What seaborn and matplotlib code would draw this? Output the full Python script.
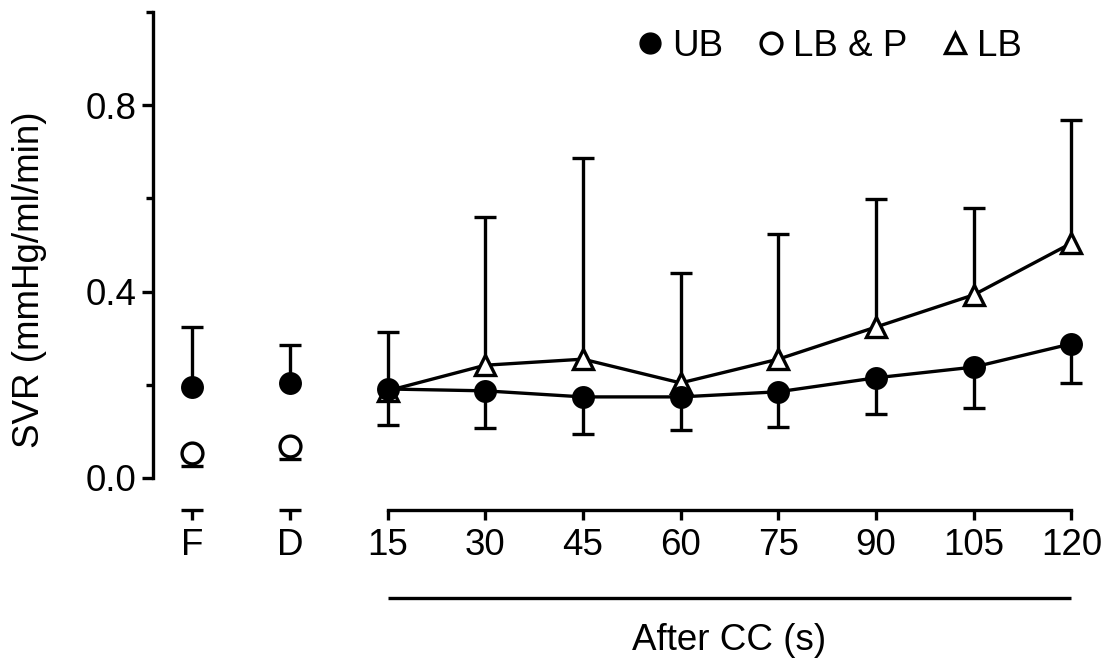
import numpy as np
import pandas as pd
import seaborn as sns
import matplotlib.pyplot as plt
from matplotlib.lines import Line2D
from matplotlib.transforms import blended_transform_factory

# categories on the x axis
labels = ["F", "D", "15", "30", "45", "60", "75", "90", "105", "120"]

# UB (filled circles): mean and SD (SD drawn up at F/D, down afterwards)
ub_mean = [0.195, 0.204, 0.191, 0.187, 0.174, 0.174, 0.185, 0.215, 0.238, 0.288]
ub_sd = [0.129, 0.081, 0.077, 0.080, 0.080, 0.071, 0.076, 0.078, 0.088, 0.084]

# LB & P (open circles), only at F and D, SD drawn down
lbp_mean = [0.054, 0.069]
lbp_sd = [0.028, 0.028]

# LB (open triangles), 15..120 s, SD drawn up
lb_mean = [0.187, 0.242, 0.255, 0.204, 0.255, 0.324, 0.393, 0.504]
lb_sd = [0.126, 0.318, 0.432, 0.236, 0.269, 0.275, 0.186, 0.264]

pos = np.arange(len(labels))
df_ub = pd.DataFrame({"pos": pos, "mean": ub_mean, "sd": ub_sd})
df_lbp = pd.DataFrame({"pos": pos[:2], "mean": lbp_mean, "sd": lbp_sd})
df_lb = pd.DataFrame({"pos": pos[2:], "mean": lb_mean, "sd": lb_sd})

sns.set_theme(style="ticks")
plt.rcParams["font.family"] = ["Liberation Sans", "DejaVu Sans"]
plt.rcParams.update({"text.color": "black", "xtick.color": "black",
                     "ytick.color": "black", "axes.labelcolor": "black"})

LW = 2.4
FS = 26.5
fig = plt.figure(figsize=(11.12, 6.69), dpi=100)
ax = fig.add_axes([153 / 1112, 1 - 510 / 669, 938 / 1112, 498 / 669])

ylo = -0.0687
ax.set_xlim(-0.4, 9.2)
ax.set_ylim(ylo, 1.0)


def one_sided(d, up, z=2):
    yerr = [np.zeros(len(d)), d["sd"]] if up else [d["sd"], np.zeros(len(d))]
    _, caps, _ = ax.errorbar(d["pos"], d["mean"], yerr=yerr, fmt="none",
                             ecolor="black", elinewidth=LW, capsize=7.9,
                             capthick=LW, zorder=z)
    caps[0 if up else 1].set_visible(False)


one_sided(df_ub.iloc[:2], True)
one_sided(df_ub.iloc[2:], False)
one_sided(df_lbp, False)
one_sided(df_lb, True)

# LB line with open triangles
sns.lineplot(data=df_lb, x="pos", y="mean", ax=ax, color="black", lw=LW,
             marker="^", markersize=15, markerfacecolor="white",
             markeredgecolor="black", markeredgewidth=LW, zorder=3)
# UB line with filled circles (15..120), and lone points at F, D
sns.lineplot(data=df_ub.iloc[2:], x="pos", y="mean", ax=ax, color="black", lw=LW,
             marker="o", markersize=15, markerfacecolor="black",
             markeredgecolor="black", markeredgewidth=1.5, zorder=4)
sns.scatterplot(data=df_ub.iloc[:2], x="pos", y="mean", ax=ax, color="black",
                marker="o", s=16.5 ** 2, linewidth=0, zorder=4)
sns.scatterplot(data=df_lbp, x="pos", y="mean", ax=ax, facecolor="white",
                edgecolor="black", marker="o", s=15 ** 2, linewidth=LW, zorder=4)

# axes styling
for s in ["top", "right"]:
    ax.spines[s].set_visible(False)
ax.spines["left"].set_bounds(0, 1.0)
ax.spines["bottom"].set_bounds(2, 9)
for s in ["left", "bottom"]:
    ax.spines[s].set_linewidth(LW)
    ax.spines[s].set_color("black")
for i in range(2):
    ax.plot([i - 0.115, i + 0.115], [ylo, ylo], color="black", lw=LW,
            clip_on=False, solid_capstyle="butt")

ax.set_xticks(pos)
ax.set_xticklabels(labels)
ax.set_yticks([0, 0.4, 0.8])
ax.set_yticklabels(["0.0", "0.4", "0.8"])
ax.set_yticks([0.2, 0.6, 1.0], minor=True)
ax.tick_params(axis="x", length=7, width=LW, color="black", labelsize=FS, pad=6)
ax.tick_params(axis="y", which="major", length=8, width=LW, color="black",
               labelsize=FS, pad=4)
ax.tick_params(axis="y", which="minor", length=5, width=LW, color="black")
ax.set_xlabel("")
ax.set_ylabel("")
fig.text(30 / 1112, 1 - 280 / 669, "SVR (mmHg/ml/min)", rotation=90,
         ha="center", va="center", fontsize=FS)

# bracket below the time points
tr = blended_transform_factory(ax.transData, ax.transAxes)
ax.plot([2, 9], [-0.177, -0.177], transform=tr, color="black", lw=LW,
        clip_on=False, solid_capstyle="butt")
ax.text(5.5, -0.262, "After CC (s)", transform=tr, ha="center", va="center",
        fontsize=FS)

handles = [
    Line2D([], [], ls="none", marker="o", ms=15, mfc="black", mec="black"),
    Line2D([], [], ls="none", marker="o", ms=15, mfc="white", mec="black", mew=LW),
    Line2D([], [], ls="none", marker="^", ms=15, mfc="white", mec="black", mew=LW),
]
ax.legend(handles, ["UB", "LB & P", "LB"], ncol=3, frameon=False, fontsize=FS,
          loc="center right", bbox_to_anchor=(1022 / 1112, 1 - 46 / 669),
          bbox_transform=fig.transFigure, handlelength=0.8, handletextpad=0.2,
          columnspacing=0.9, borderpad=0, borderaxespad=0)

fig.savefig("out.png", dpi=100)
